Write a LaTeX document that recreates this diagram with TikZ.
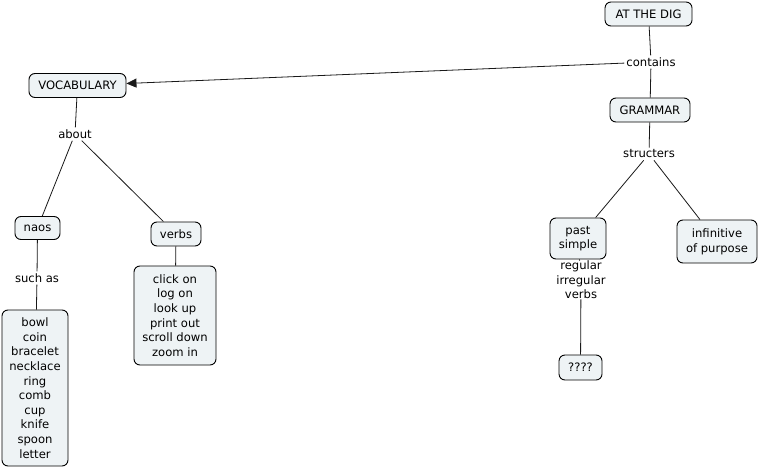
\documentclass[tikz,border=0pt]{standalone}
\usepackage{fontspec}
\setmainfont{DejaVu Sans}
\usetikzlibrary{arrows.meta}
\definecolor{boxfill}{HTML}{EEF3F5}

\begin{document}
\begin{tikzpicture}[x=1pt,y=-1pt,
  concept/.style={draw=black,fill=boxfill,rounded corners=6pt,align=center,line width=0.9pt,
    font=\fontsize{11.6}{14.6}\selectfont,inner xsep=5pt,inner ysep=3pt,minimum height=24pt},
  phrase/.style={align=center,font=\fontsize{11.6}{14.6}\selectfont,inner sep=2pt},
  link/.style={draw=black!90,line width=0.8pt}]
\useasboundingbox (0,0) rectangle (759,468);
\node[concept,minimum width=87pt] (dig) at (648.5,14) {AT THE DIG};
\node[phrase] (contains) at (651,62) {contains};
\node[concept,minimum width=80pt] (grammar) at (650,110) {GRAMMAR};
\node[phrase] (structers) at (649,154) {structers};
\node[concept,minimum width=97pt] (vocab) at (77.5,85.5) {VOCABULARY};
\node[phrase] (about) at (75,134) {about};
\node[concept,minimum width=45pt,minimum height=23pt] (naos) at (37.5,228) {naos};
\node[concept,minimum width=50pt] (verbs) at (176,234) {verbs};
\node[phrase] (suchas) at (37,278) {such as};
\node[concept,minimum width=66pt,minimum height=156pt] (objects) at (35,388)
  {bowl\\coin\\bracelet\\necklace\\ring\\comb\\cup\\knife\\spoon\\letter};
\node[concept,minimum width=82pt,minimum height=99pt] (phrasals) at (175,315.5)
  {click on\\log on\\look up\\print out\\scroll down\\zoom in};
\node[concept,minimum width=56pt,minimum height=41pt,inner xsep=3pt] (past) at (578,238.5) {past\\simple};
\node[concept,minimum width=80pt,minimum height=43pt,inner xsep=3pt] (purpose) at (717,241.5) {infinitive\\of purpose};
\node[phrase,inner sep=0pt] (regular) at (581,280) {regular\\irregular\\verbs};
\node[concept,minimum width=43pt,minimum height=25pt] (unknown) at (580.5,367.5) {????};

\draw[link] (dig) -- (contains);
\draw[link,-{Triangle[length=10pt,width=9pt]}] (contains) -- (vocab);
\draw[link] (contains) -- (grammar);
\draw[link] (grammar) -- (structers);
\draw[link] (structers) -- (past);
\draw[link] (structers) -- (purpose);
\draw[link] (past) -- (regular);
\draw[link] (regular) -- (unknown);
\draw[link] (vocab) -- (about);
\draw[link] (about) -- (naos);
\draw[link] (about) -- (verbs);
\draw[link] (naos) -- (suchas);
\draw[link] (suchas) -- (objects);
\draw[link] (verbs) -- (phrasals);
\end{tikzpicture}
\end{document}
